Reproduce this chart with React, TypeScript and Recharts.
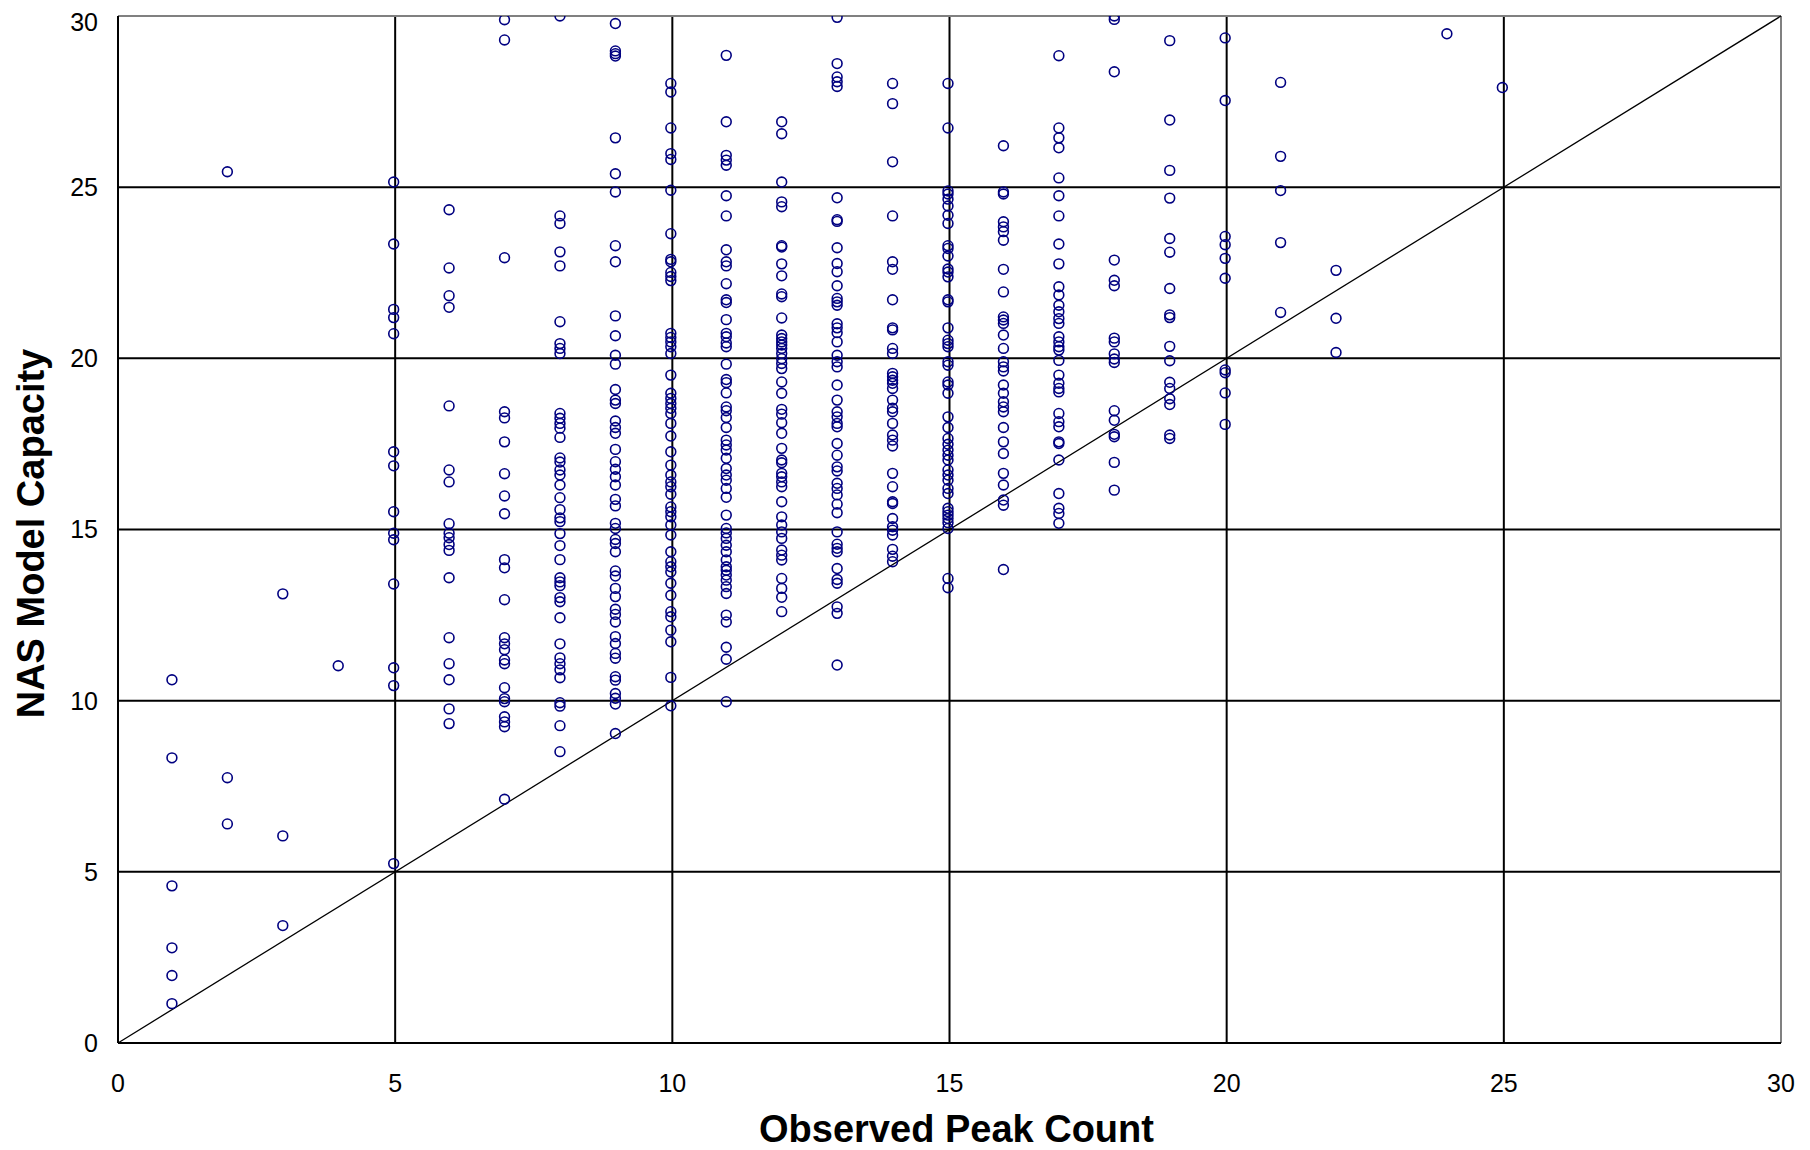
import { ScatterChart, Scatter, XAxis, YAxis, ReferenceLine, Label } from "recharts";

const at1 = [10.61, 8.33, 4.59, 2.78, 1.97, 1.15];
const at2 = [25.45, 7.75, 6.4];
const at3 = [13.12, 6.05, 3.43];
const at4 = [11.02];
const at5 = [25.15, 23.34, 21.43, 21.19, 20.72, 17.27, 16.86, 15.52, 14.89, 14.7, 13.41, 10.96, 10.44, 5.24];
const at6 = [24.34, 22.64, 21.83, 21.49, 18.61, 16.74, 16.39, 15.17, 14.89, 14.76, 14.56, 14.39, 13.59, 11.84, 11.08, 10.61, 9.76, 9.33];
const at7 = [29.89, 29.3, 22.94, 18.44, 18.26, 17.56, 16.63, 15.98, 15.46, 14.12, 13.88, 12.95, 11.84, 11.66, 11.49, 11.19, 11.08, 10.38, 10.06, 9.97, 9.53, 9.38, 9.24, 7.12];
const at8 = [30.0, 24.16, 23.94, 23.11, 22.7, 21.07, 20.43, 20.29, 20.14, 18.39, 18.25, 18.1, 17.96, 17.69, 17.09, 16.97, 16.74, 16.59, 16.3, 15.93, 15.58, 15.34, 15.23, 14.88, 14.53, 14.12, 13.59, 13.47, 13.36, 13.01, 12.89, 12.42, 11.66, 11.25, 11.08, 10.9, 10.67, 9.94, 9.84, 9.27, 8.51];
const at9 = [29.78, 28.98, 28.9, 28.83, 26.44, 25.39, 24.86, 23.29, 22.82, 21.24, 20.66, 20.09, 19.83, 19.09, 18.78, 18.68, 18.17, 17.98, 17.81, 17.34, 16.98, 16.76, 16.54, 16.3, 15.88, 15.69, 15.18, 15.03, 14.71, 14.59, 14.35, 13.79, 13.64, 13.28, 13.04, 12.67, 12.52, 12.3, 11.87, 11.67, 11.38, 11.24, 10.7, 10.6, 10.21, 10.07, 9.9, 9.04];
const at10 = [28.03, 27.78, 26.73, 25.98, 25.81, 24.91, 23.64, 22.89, 22.82, 22.51, 22.39, 22.27, 20.73, 20.61, 20.48, 20.34, 20.14, 19.51, 18.98, 18.83, 18.68, 18.54, 18.39, 18.1, 17.73, 17.27, 16.88, 16.59, 16.39, 16.25, 16.03, 15.66, 15.52, 15.37, 15.13, 14.84, 14.35, 14.06, 13.91, 13.76, 13.43, 13.08, 12.6, 12.45, 12.06, 11.72, 10.68, 9.85];
const at11 = [28.85, 26.91, 25.93, 25.79, 25.64, 24.75, 24.16, 23.17, 22.82, 22.7, 22.18, 21.71, 21.63, 21.13, 20.73, 20.63, 20.45, 20.34, 19.83, 19.38, 19.29, 18.99, 18.58, 18.47, 18.27, 17.98, 17.61, 17.47, 17.32, 17.08, 16.78, 16.59, 16.44, 16.2, 15.94, 15.42, 15.03, 14.9, 14.74, 14.54, 14.35, 14.11, 13.91, 13.81, 13.67, 13.52, 13.33, 13.13, 12.5, 12.3, 11.56, 11.21, 9.97];
const at12 = [26.91, 26.56, 25.15, 24.57, 24.43, 23.29, 23.25, 22.76, 22.41, 21.88, 21.8, 21.18, 20.68, 20.58, 20.48, 20.39, 20.29, 20.14, 19.99, 19.85, 19.7, 19.31, 18.98, 18.51, 18.37, 18.12, 17.81, 17.37, 17.03, 16.95, 16.64, 16.54, 16.39, 16.25, 15.81, 15.37, 15.13, 14.93, 14.74, 14.4, 14.25, 14.11, 13.57, 13.28, 13.02, 12.6];
const at13 = [29.96, 28.61, 28.22, 28.08, 27.94, 24.69, 24.05, 24.0, 23.23, 22.77, 22.53, 22.12, 21.75, 21.65, 21.55, 21.01, 20.89, 20.75, 20.48, 20.09, 19.9, 19.75, 19.22, 18.78, 18.44, 18.29, 18.1, 18.0, 17.51, 17.17, 16.83, 16.71, 16.35, 16.2, 16.01, 15.74, 15.49, 14.93, 14.57, 14.45, 14.35, 13.86, 13.54, 13.43, 12.74, 12.55, 11.04];
const at14 = [28.03, 27.44, 25.74, 24.16, 22.82, 22.6, 21.71, 20.89, 20.83, 20.29, 20.14, 19.56, 19.46, 19.36, 19.27, 19.12, 18.78, 18.54, 18.44, 18.1, 17.76, 17.61, 17.44, 16.64, 16.25, 15.81, 15.76, 15.32, 15.08, 14.98, 14.84, 14.42, 14.22, 14.06];
const at15 = [28.03, 26.73, 24.89, 24.8, 24.65, 24.45, 24.18, 23.94, 23.29, 23.21, 22.99, 22.61, 22.52, 22.38, 21.71, 21.65, 20.89, 20.53, 20.43, 20.34, 19.9, 19.8, 19.31, 19.22, 18.98, 18.29, 17.98, 17.66, 17.49, 17.32, 17.17, 17.03, 16.74, 16.59, 16.44, 16.2, 16.05, 15.62, 15.52, 15.42, 15.32, 15.2, 15.03, 13.57, 13.3];
const at16 = [26.21, 24.86, 24.8, 23.99, 23.84, 23.7, 23.45, 22.6, 21.94, 21.21, 21.12, 21.02, 20.68, 20.29, 19.9, 19.75, 19.63, 19.22, 18.98, 18.73, 18.58, 18.44, 17.98, 17.56, 17.22, 16.64, 16.3, 15.86, 15.71, 13.83];
const at17 = [28.84, 26.73, 26.44, 26.15, 25.27, 24.75, 24.16, 23.34, 22.76, 22.09, 21.85, 21.55, 21.36, 21.16, 21.02, 20.63, 20.48, 20.34, 20.24, 19.94, 19.51, 19.27, 19.12, 19.02, 18.39, 18.15, 18.0, 17.56, 17.51, 17.03, 16.05, 15.62, 15.47, 15.18];
const at18 = [30.0, 29.9, 28.37, 22.87, 22.28, 22.12, 20.59, 20.48, 20.13, 19.98, 19.88, 18.47, 18.19, 17.78, 17.71, 16.96, 16.15];
const at19 = [29.28, 26.96, 25.49, 24.68, 23.5, 23.1, 22.04, 21.27, 21.19, 20.35, 19.93, 19.3, 19.12, 18.82, 18.65, 17.76, 17.66];
const at20 = [29.36, 27.53, 23.56, 23.32, 22.92, 22.34, 19.66, 19.58, 18.99, 18.07];
const at21 = [28.06, 25.9, 24.9, 23.38, 21.34];
const at22 = [22.57, 21.17, 20.17];
const at24 = [29.48];
const at25 = [27.91];

const counts = [1, 2, 3, 4, 5, 6, 7, 8, 9, 10, 11, 12, 13, 14, 15, 16, 17, 18, 19, 20, 21, 22, 24, 25];
const capacities = [at1, at2, at3, at4, at5, at6, at7, at8, at9, at10, at11, at12, at13, at14, at15, at16, at17, at18, at19, at20, at21, at22, at24, at25];

const ticks = [0, 5, 10, 15, 20, 25, 30];
const gridValues = [5, 10, 15, 20, 25];

const points = counts.flatMap((c, i) => capacities[i].map((v) => ({ x: c, y: v })));

const FONT = '"Liberation Sans", Arial, sans-serif';

const Ring = (p: any) => (
  <circle cx={p.cx - 1.5} cy={p.cy} r={4.9} fill="none" stroke="#000080" strokeWidth={1.6} />
);

export default function App() {
  return (
    <div style={{ width: 1794, height: 1142 }}>
      <ScatterChart width={1794} height={1142} margin={{ top: 8, right: 21, left: 0, bottom: 0 }} style={{ overflow: "visible" }}>
        <XAxis
          type="number"
          dataKey="x"
          domain={[0, 30]}
          ticks={ticks}
          allowDataOverflow
          height={107}
          tickLine={false}
          tickSize={0}
          tickMargin={31}
          axisLine={{ stroke: "#000", strokeWidth: 2 }}
          tick={{ fill: "#000", fontSize: 25, fontFamily: FONT }}
        >
          <Label
            content={(props: any) => {
              const vb = props.viewBox;
              return (
                <text x={vb.x + vb.width / 2 + 7} y={vb.y + 99} textAnchor="middle" fontFamily={FONT} fontWeight="bold" fontSize={38} fill="#000">
                  Observed Peak Count
                </text>
              );
            }}
          />
        </XAxis>
        <YAxis
          type="number"
          dataKey="y"
          domain={[0, 30]}
          ticks={ticks}
          allowDataOverflow
          width={110}
          tickLine={false}
          tickSize={0}
          tickMargin={20}
          axisLine={{ stroke: "#000", strokeWidth: 2 }}
          tick={{ fill: "#000", fontSize: 25, fontFamily: FONT }}
        >
          <Label
            content={(props: any) => {
              const vb = props.viewBox;
              const cx = vb.x + 36;
              const cy = vb.y + vb.height / 2 + 4;
              return (
                <text x={cx} y={cy} transform={`rotate(-90 ${cx} ${cy})`} textAnchor="middle" fontFamily={FONT} fontWeight="bold" fontSize={38} fill="#000">
                  NAS Model Capacity
                </text>
              );
            }}
          />
        </YAxis>
        {gridValues.map((v) => (
          <ReferenceLine key={"h" + v} y={v} stroke="#000" strokeWidth={2} />
        ))}
        {gridValues.map((v) => (
          <ReferenceLine key={"v" + v} x={v} stroke="#000" strokeWidth={2} />
        ))}
        <ReferenceLine y={30} stroke="#808080" strokeWidth={2} />
        <ReferenceLine x={30} stroke="#808080" strokeWidth={2} />
        <ReferenceLine segment={[{ x: 0, y: 0 }, { x: 30, y: 30 }]} stroke="#000" strokeWidth={1.3} ifOverflow="visible" />
        <Scatter data={points} shape={Ring} isAnimationActive={false} />
      </ScatterChart>
    </div>
  );
}
